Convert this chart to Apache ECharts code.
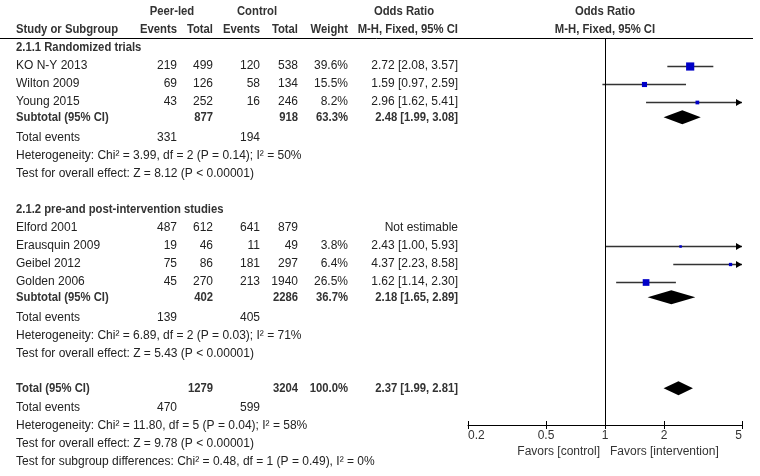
<!DOCTYPE html>
<html>
<head>
<meta charset="utf-8">
<script src="https://cdn.jsdelivr.net/npm/echarts@6/dist/echarts.min.js"></script>
<style>
html, body { margin: 0; padding: 0; background: #fff; }
#main { width: 760px; height: 476px; }
</style>
</head>
<body>
<div id="main"></div>
<script>
// study level data
var studies = ['KO N-Y 2013', 'Wilton 2009', 'Young 2015', 'Elford 2001', 'Erausquin 2009', 'Geibel 2012', 'Golden 2006'];
var studyRows = [2, 3, 4, 11, 12, 13, 14];
var peerEvents = [219, 69, 43, 487, 19, 75, 45];
var peerTotal = [499, 126, 252, 612, 46, 86, 270];
var ctrlEvents = [120, 58, 16, 641, 11, 181, 213];
var ctrlTotal = [538, 134, 246, 879, 49, 297, 1940];
var weights = [39.6, 15.5, 8.2, null, 3.8, 6.4, 26.5];
var oddsRatio = [2.72, 1.59, 2.96, null, 2.43, 4.37, 1.62];
var ciLow = [2.08, 0.97, 1.62, null, 1.00, 2.23, 1.14];
var ciHigh = [3.57, 2.59, 5.41, null, 5.93, 8.58, 2.30];

// pooled estimates
var poolLabels = ['Subtotal (95% CI)', 'Subtotal (95% CI)', 'Total (95% CI)'];
var poolRows = [4.85, 14.85, 19.9];
var poolPeerTotal = [877, 402, 1279];
var poolCtrlTotal = [918, 2286, 3204];
var poolWeight = [63.3, 36.7, 100.0];
var poolOR = [2.48, 2.18, 2.37];
var poolLow = [1.99, 1.65, 1.99];
var poolHigh = [3.08, 2.89, 2.81];

// total events
var eventRows = [6, 16, 21];
var eventsPeer = [331, 139, 470];
var eventsCtrl = [194, 405, 599];

var groupHeaders = ['2.1.1 Randomized trials', '2.1.2 pre-and post-intervention studies'];
var groupRows = [1, 10];

var noteLines = [
  'Heterogeneity: Chi\u00b2 = 3.99, df = 2 (P = 0.14); I\u00b2 = 50%',
  'Test for overall effect: Z = 8.12 (P < 0.00001)',
  'Heterogeneity: Chi\u00b2 = 6.89, df = 2 (P = 0.03); I\u00b2 = 71%',
  'Test for overall effect: Z = 5.43 (P < 0.00001)',
  'Heterogeneity: Chi\u00b2 = 11.80, df = 5 (P = 0.04); I\u00b2 = 58%',
  'Test for overall effect: Z = 9.78 (P < 0.00001)',
  'Test for subgroup differences: Chi\u00b2 = 0.48, df = 1 (P = 0.49), I\u00b2 = 0%'
];
var noteRows = [7, 8, 17, 18, 22, 23, 24];

var axisTicks = [0.2, 0.5, 1, 2, 5];

// layout
var ROW0 = 30, ROWH = 18;
var FONT = '12px "Liberation Sans", Arial, sans-serif';
var BOLD = 'bold 12px "Liberation Sans", Arial, sans-serif';
var TXT = '#222', HEAD = '#333';
var colX = { name: 16, ev1: 177, tot1: 213, ev2: 260, tot2: 298, wt: 348, or: 458 };

function rowY(r) { return ROW0 + ROWH * r; }
function fmtCI(o, l, h) { return o.toFixed(2) + ' [' + l.toFixed(2) + ', ' + h.toFixed(2) + ']'; }

var texts = [];
function txt(s, x, y, align, bold, color) {
  texts.push({
    type: 'text', x: x, y: y, silent: true, scaleX: bold ? 0.94 : 1,
    style: { text: String(s), font: bold ? BOLD : FONT, fill: color || TXT, align: align || 'left', verticalAlign: 'middle' }
  });
}

// headers
txt('Peer-led', 172, 12, 'center', true, HEAD);
txt('Control', 257, 12, 'center', true, HEAD);
txt('Odds Ratio', 404, 12, 'center', true, HEAD);
txt('Odds Ratio', 605, 12, 'center', true, HEAD);
txt('Study or Subgroup', colX.name, 30, 'left', true, HEAD);
txt('Events', colX.ev1, 30, 'right', true, HEAD);
txt('Total', colX.tot1, 30, 'right', true, HEAD);
txt('Events', colX.ev2, 30, 'right', true, HEAD);
txt('Total', colX.tot2, 30, 'right', true, HEAD);
txt('Weight', colX.wt, 30, 'right', true, HEAD);
txt('M-H, Fixed, 95% CI', colX.or, 30, 'right', true, HEAD);
txt('M-H, Fixed, 95% CI', 605, 30, 'center', true, HEAD);

groupHeaders.forEach(function (g, i) { txt(g, colX.name, rowY(groupRows[i]), 'left', true, HEAD); });

studies.forEach(function (s, i) {
  var y = rowY(studyRows[i]);
  txt(s, colX.name, y);
  txt(peerEvents[i], colX.ev1, y, 'right');
  txt(peerTotal[i], colX.tot1, y, 'right');
  txt(ctrlEvents[i], colX.ev2, y, 'right');
  txt(ctrlTotal[i], colX.tot2, y, 'right');
  if (weights[i] != null) {
    txt(weights[i].toFixed(1) + '%', colX.wt, y, 'right');
    txt(fmtCI(oddsRatio[i], ciLow[i], ciHigh[i]), colX.or, y, 'right');
  } else {
    txt('Not estimable', colX.or, y, 'right');
  }
});

poolLabels.forEach(function (s, i) {
  var y = rowY(poolRows[i]);
  txt(s, colX.name, y, 'left', true, HEAD);
  txt(poolPeerTotal[i], colX.tot1, y, 'right', true, HEAD);
  txt(poolCtrlTotal[i], colX.tot2, y, 'right', true, HEAD);
  txt(poolWeight[i].toFixed(1) + '%', colX.wt, y, 'right', true, HEAD);
  txt(fmtCI(poolOR[i], poolLow[i], poolHigh[i]), colX.or, y, 'right', true, HEAD);
});

eventRows.forEach(function (r, i) {
  var y = rowY(r);
  txt('Total events', colX.name, y);
  txt(eventsPeer[i], colX.ev1, y, 'right');
  txt(eventsCtrl[i], colX.ev2, y, 'right');
});

noteLines.forEach(function (s, i) { txt(s, colX.name, rowY(noteRows[i])); });

txt('Favors [control]', 600, 452, 'right', false, '#333');
txt('Favors [intervention]', 610, 452, 'left', false, '#333');

// header rule
texts.push({ type: 'line', silent: true, shape: { x1: 0, y1: 38.5, x2: 753, y2: 38.5 }, style: { stroke: '#000', lineWidth: 1 } });

var GRID_TOP = 38, GRID_BOTTOM = 425;

var studyData = [];
studies.forEach(function (s, i) {
  if (oddsRatio[i] != null) studyData.push([studyRows[i], oddsRatio[i], ciLow[i], ciHigh[i], weights[i]]);
});
var poolData = poolRows.map(function (r, i) { return [r, poolOR[i], poolLow[i], poolHigh[i]]; });

function renderStudy(params, api) {
  var r = api.value(0);
  var c = api.coord([api.value(1), r]);
  var lo = api.coord([api.value(2), r]);
  var hi = api.coord([api.value(3), r]);
  var cs = params.coordSys;
  var xMin = cs.x, xMax = cs.x + cs.width;
  var y = Math.round(c[1]) + 0.5;
  var x1 = Math.max(lo[0], xMin), x2 = Math.min(hi[0], xMax);
  var s = Math.max(2, Math.sqrt(api.value(4)) * 1.3);
  var kids = [
    { type: 'line', shape: { x1: x1, y1: y, x2: x2, y2: y }, style: { stroke: '#333', lineWidth: 1.3 } },
    { type: 'rect', shape: { x: c[0] - s / 2, y: y - s / 2, width: s, height: s }, style: { fill: '#0000c8' } }
  ];
  if (hi[0] > xMax) {
    kids.push({ type: 'polygon', shape: { points: [[xMax, y], [xMax - 6, y - 3.5], [xMax - 6, y + 3.5]] }, style: { fill: '#000' } });
  }
  if (lo[0] < xMin) {
    kids.push({ type: 'polygon', shape: { points: [[xMin, y], [xMin + 6, y - 3.5], [xMin + 6, y + 3.5]] }, style: { fill: '#000' } });
  }
  return { type: 'group', children: kids };
}

function renderDiamond(params, api) {
  var r = api.value(0);
  var c = api.coord([api.value(1), r]);
  var lo = api.coord([api.value(2), r]);
  var hi = api.coord([api.value(3), r]);
  var h = 7;
  return {
    type: 'polygon',
    shape: { points: [[lo[0], c[1]], [c[0], c[1] - h], [hi[0], c[1]], [c[0], c[1] + h]] },
    style: { fill: '#000' }
  };
}

var option = {
  animation: false,
  backgroundColor: '#fff',
  grid: { left: 468, right: 18, top: GRID_TOP, bottom: 476 - GRID_BOTTOM },
  xAxis: [{
    type: 'log', logBase: 10, min: 0.2, max: 5,
    axisLine: { lineStyle: { color: '#000', width: 1 } },
    axisTick: { show: true, length: 4, customValues: axisTicks, lineStyle: { color: '#000' } },
    axisLabel: {
      customValues: axisTicks, margin: 5, color: '#333', fontSize: 12,
      fontFamily: '"Liberation Sans", Arial, sans-serif',
      alignMinLabel: 'left', alignMaxLabel: 'right',
      formatter: function (v) { return String(v); }
    },
    splitLine: { show: false }, minorTick: { show: false }
  }, {
    type: 'log', logBase: 10, min: 0.2, max: 5, position: 'bottom', offset: 0,
    axisLine: { show: false },
    axisTick: { show: true, inside: true, length: 4, customValues: axisTicks, lineStyle: { color: '#000' } },
    axisLabel: { show: false }, splitLine: { show: false }
  }],
  yAxis: {
    type: 'value', inverse: true,
    min: (GRID_TOP - ROW0) / ROWH, max: (GRID_BOTTOM - ROW0) / ROWH,
    show: false, splitLine: { show: false }
  },
  graphic: texts,
  series: [{
    type: 'custom', renderItem: renderStudy, data: studyData, clip: false,
    encode: { x: [1, 2, 3], y: 0 },
    markLine: {
      silent: true, symbol: 'none', label: { show: false },
      lineStyle: { color: '#000', width: 1, type: 'solid' },
      data: [{ xAxis: 1 }]
    }
  }, {
    type: 'custom', renderItem: renderDiamond, data: poolData, clip: false,
    encode: { x: [1, 2, 3], y: 0 }
  }]
};

var chart = echarts.init(document.getElementById('main'), null, { renderer: 'canvas' });
chart.setOption(option);
</script>
</body>
</html>
